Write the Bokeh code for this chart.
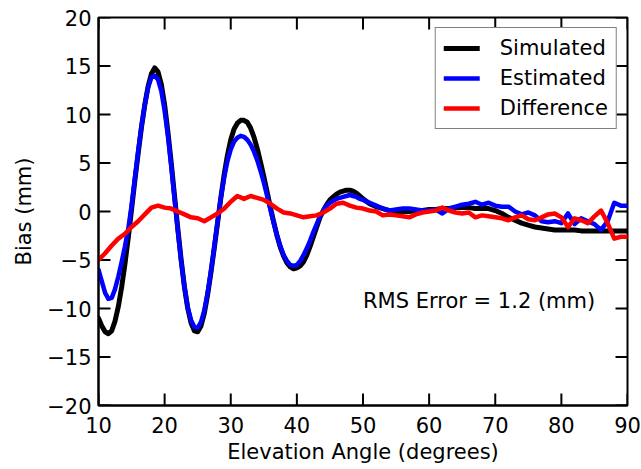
import math
from bokeh.plotting import figure
from bokeh.models import FixedTicker, Legend, LegendItem, Label, Range1d
from bokeh.embed import file_html
from bokeh.resources import INLINE

# Simulated / Estimated: 0.5-degree samples 10..50, then 1-degree 51..90
x_fine = [10 + 0.5 * i for i in range(81)] + list(range(51, 91))

simulated = [
    -11.0, -11.8, -12.4, -12.6, -12.3, -11.3, -9.8, -7.8, -5.4, -2.7,
    0.2, 3.2, 6.0, 8.7, 11.0, 12.9, 14.2, 14.8, 14.4, 13.1,
    11.0, 8.2, 5.0, 1.6, -1.8, -5.0, -7.8, -10.0, -11.5, -12.3,
    -12.4, -11.8, -10.5, -8.6, -6.3, -3.8, -1.2, 1.4, 3.8, 5.8,
    7.4, 8.5, 9.1, 9.4, 9.4, 9.2, 8.6, 7.7, 6.5, 5.1,
    3.6, 2.0, 0.4, -1.1, -2.5, -3.7, -4.6, -5.3, -5.7, -5.9,
    -5.8, -5.6, -5.2, -4.5, -3.6, -2.6, -1.6, -0.6, 0.1, 0.7,
    1.2, 1.5, 1.8, 2.0, 2.1, 2.2, 2.2, 2.1, 1.9, 1.6,
    1.3,
    0.8, 0.5, 0.3, 0.1, 0.0, 0.0, 0.0, 0.1, 0.1, 0.2,
    0.2, 0.3, 0.3, 0.4, 0.4, 0.4, 0.3, 0.3, 0.3, 0.1,
    -0.2, -0.6, -0.9, -1.2, -1.4, -1.6, -1.7, -1.8, -1.9, -1.9,
    -1.9, -1.9, -2.0, -2.0, -2.0, -2.0, -2.0, -2.0, -2.0, -2.0,
]

estimated = [
    -6.0, -7.2, -8.4, -9.0, -8.9, -8.0, -6.7, -5.2, -3.6, -1.8,
    0.6, 3.4, 6.2, 8.8, 11.0, 12.8, 13.8, 14.0, 13.6, 12.4,
    10.4, 7.8, 4.7, 1.3, -2.0, -5.1, -7.8, -9.9, -11.2, -11.9,
    -12.0, -11.4, -10.2, -8.4, -6.2, -3.7, -1.1, 1.4, 3.5, 5.2,
    6.4, 7.2, 7.6, 7.8, 7.7, 7.4, 6.9, 6.2, 5.3, 4.2,
    3.0, 1.6, 0.2, -1.2, -2.5, -3.6, -4.5, -5.1, -5.5, -5.6,
    -5.5, -5.1, -4.5, -3.8, -3.0, -2.1, -1.3, -0.5, 0.1, 0.6,
    0.9, 1.1, 1.3, 1.4, 1.5, 1.6, 1.7, 1.6, 1.5, 1.3,
    1.2,
    0.9, 0.6, 0.3, 0.1, 0.2, 0.3, 0.3, 0.2, 0.1, 0.1,
    0.2, -0.2, 0.3, 0.5, 0.7, 0.8, 1.0, 0.7, 0.9, 0.6,
    0.5, 0.5, 0.0, -0.3, -0.1, -0.4, -1.0, -1.1, -1.0, -1.2,
    -0.2, -1.3, -0.7, -1.0, -1.3, -1.9, -1.0, 0.9, 0.6, 0.6,
]

# Difference: 1-degree samples 10..90
x_diff = list(range(10, 91))
difference = [
    -5.0, -4.3, -3.5, -2.8, -2.3, -1.6, -1.0, -0.3, 0.4, 0.6,
    0.4, 0.3, 0.0, -0.3, -0.6, -0.7, -1.0, -0.6, -0.2, 0.3,
    1.0, 1.6, 1.3, 1.6, 1.4, 1.2, 0.8, 0.3, -0.1, -0.2,
    -0.4, -0.6, -0.5, -0.4, -0.1, 0.3, 0.8, 0.9, 0.6, 0.4,
    0.3, 0.1, 0.0, -0.4, -0.3, -0.4, -0.5, -0.6, -0.3, -0.1,
    0.0, 0.1, 0.4, 0.1, -0.1, -0.2, -0.1, -0.6, -0.4, -0.5,
    -0.6, -0.7, -0.9, -0.6, -0.4, -0.8, -0.9, -0.6, -0.3, -0.2,
    -0.6, -1.6, -0.7, -0.9, -1.2, -0.5, 0.1, -1.2, -2.8, -2.6,
    -2.6,
]

x_ticks = [10, 20, 30, 40, 50, 60, 70, 80, 90]
y_ticks = [-20, -15, -10, -5, 0, 5, 10, 15, 20]
y_tick_labels = {t: (str(t).replace("-", "\u2212")) for t in y_ticks}

FONT = "DejaVu Sans"
FS = "21px"

xmin, xmax = x_ticks[0], x_ticks[-1]
ymin, ymax = y_ticks[0], y_ticks[-1]

p = figure(width=641, height=469, output_backend="svg", toolbar_location=None,
           x_range=Range1d(xmin, xmax), y_range=Range1d(ymin, ymax),
           min_border_left=98, min_border_right=14, min_border_top=17, min_border_bottom=64)
p.xgrid.visible = False
p.ygrid.visible = False
p.outline_line_color = "black"
p.outline_line_width = 2
p.background_fill_color = "white"
p.border_fill_color = "white"

def style_axis(ax):
    ax.axis_line_width = 2
    ax.axis_line_color = "black"
    ax.major_tick_in = 0
    ax.major_tick_out = 0
    ax.minor_tick_line_color = None
    ax.major_label_text_font = FONT
    ax.major_label_text_font_size = FS
    ax.major_label_text_color = "black"
    ax.axis_label_text_font = FONT
    ax.axis_label_text_font_size = FS
    ax.axis_label_text_font_style = "normal"
    ax.axis_label_text_color = "black"

xa = p.xaxis[0]
xa.ticker = FixedTicker(ticks=x_ticks)
xa.axis_label = "Elevation Angle (degrees)"
style_axis(xa)
xa.major_label_standoff = 11
xa.axis_label_standoff = 4

ya = p.yaxis[0]
ya.ticker = FixedTicker(ticks=y_ticks)
ya.major_label_overrides = y_tick_labels
ya.axis_label = "Bias (mm)"
style_axis(ya)
ya.major_label_standoff = 7
ya.axis_label_standoff = 8

# inward tick marks on all four sides (dash markers centred on the frame edge;
# the outer half is clipped by the frame, leaving an inward tick)
TICK = 24
tick_style = dict(marker="dash", size=TICK, line_color="black", line_width=2)
p.scatter(x=x_ticks, y=[ymin] * len(x_ticks), angle=math.pi / 2, **tick_style)
p.scatter(x=x_ticks, y=[ymax] * len(x_ticks), angle=math.pi / 2, **tick_style)
p.scatter(x=[xmin] * len(y_ticks), y=y_ticks, **tick_style)
p.scatter(x=[xmax] * len(y_ticks), y=y_ticks, **tick_style)

r1 = p.line(x_fine, simulated, line_color="black", line_width=5, line_join="round", line_cap="round")
r2 = p.line(x_fine, estimated, line_color="blue", line_width=4.5, line_join="round", line_cap="round")
r3 = p.line(x_diff, difference, line_color="red", line_width=4.5, line_join="round", line_cap="round")

legend = Legend(items=[LegendItem(label="Simulated", renderers=[r1]),
                       LegendItem(label="Estimated", renderers=[r2]),
                       LegendItem(label="Difference", renderers=[r3])],
                location="top_right")
legend.label_text_font = FONT
legend.label_text_font_size = FS
legend.label_text_color = "black"
legend.glyph_width = 36
legend.glyph_height = 24
legend.label_height = 24
legend.spacing = 6
legend.padding = 8
legend.margin = 10
legend.label_standoff = 20
legend.border_line_color = "black"
legend.border_line_width = 1.5
legend.background_fill_alpha = 1
p.add_layout(legend)

p.add_layout(Label(x=50, y=-9.2, text="RMS Error = 1.2 (mm)", text_font=FONT,
                   text_font_size=FS, text_color="black", text_baseline="middle"))

open("out.html", "w").write(file_html(p, INLINE))
